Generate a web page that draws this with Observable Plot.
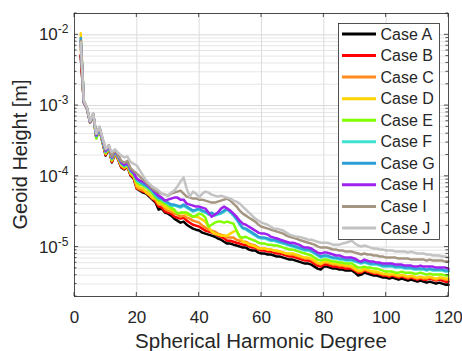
<!DOCTYPE html>
<html><head><meta charset="utf-8">
<script src="https://cdn.jsdelivr.net/npm/d3@7"></script>
<script src="https://cdn.jsdelivr.net/npm/@observablehq/plot@0.6"></script>
<style>html,body{margin:0;padding:0;background:#fff;} #chart{width:462px;height:351px;}</style>
</head><body><div id="chart"></div>
<script>
// Spherical harmonic degree (x)
const degree = [2,3,4,5,6,7,8,9,10,11,12,13,14,15,16,17,18,19,20,21,22,23,24,25,26,27,28,29,30,31,32,33,34,35,36,37,38,39,40,41,42,43,44,45,46,47,48,49,50,51,52,53,54,55,56,57,58,59,60,61,62,63,64,65,66,67,68,69,70,71,72,73,74,75,76,77,78,79,80,81,82,83,84,85,86,87,88,89,90,91,92,93,94,95,96,97,98,99,100,101,102,103,104,105,106,107,108,109,110,111,112,113,114,115,116,117,118,119,120];

// Geoid height per degree, in micrometres
const caseA = [5000,1100,900,575,745,350,470,300,196,255,157,210,173,133,125,137,102,93,
67.0,62.8,58.8,56.9,51.6,46.8,42.5,33.8,34.9,30.7,
29.7,27.8,25.2,23.6,22.1,22.9,20.7,19.4,18.2,17.6,
17.1,16.0,15.5,15.0,14.5,14.0,13.2,12.7,11.9,11.2,
11.2,10.8,10.5,10.2,9.83,9.83,9.21,8.92,8.92,8.35,
8.09,8.09,7.83,7.83,7.58,7.33,7.33,7.10,6.87,6.65,
6.65,6.44,6.23,6.03,5.84,5.84,5.65,5.29,4.96,4.80,
5.29,5.29,5.12,4.96,4.96,4.80,4.80,4.65,4.65,4.65,
4.35,3.95,4.08,4.35,4.21,4.08,3.95,3.95,3.82,3.70,
3.70,3.58,3.70,3.58,3.46,3.58,3.46,3.35,3.46,3.35,
3.24,3.35,3.24,3.14,3.24,3.14,3.04,3.14,3.04,2.94,
2.94];
const caseB = [5200,1100,900,575,745,355,470,305,200,255,160,212,175,135,127,138,104,95,
67.0,64.9,60.8,58.8,53.3,48.4,43.9,37.3,36.1,31.7,
30.7,29.7,26.9,26.0,25.2,26.0,23.6,22.1,20.7,20.1,
19.4,18.2,17.1,16.5,16.0,15.5,14.5,14.0,13.2,12.3,
12.3,11.9,11.5,11.2,10.8,10.8,10.2,9.83,9.83,9.21,
8.92,8.92,8.63,8.63,8.35,8.09,8.09,7.83,7.58,7.33,
7.33,7.10,6.87,6.65,6.44,6.44,6.23,5.84,5.47,5.29,
5.65,5.65,5.47,5.29,5.29,5.12,5.12,4.96,4.96,4.96,
4.65,4.35,4.35,4.65,4.50,4.35,4.21,4.21,4.08,3.95,
3.95,3.82,3.95,3.82,3.70,3.82,3.70,3.58,3.70,3.58,
3.46,3.58,3.46,3.46,3.58,3.46,3.35,3.46,3.35,3.24,
3.24];
const caseC = [7000,1120,910,580,750,360,475,310,205,258,165,215,178,140,130,140,108,98,
69.2,64.9,62.8,60.8,55.1,48.4,46.8,39.8,39.8,34.9,
32.7,31.7,29.7,28.7,26.9,27.8,26.0,25.2,23.6,22.9,
22.1,20.1,18.8,17.6,17.1,16.5,15.5,15.0,14.5,13.6,
13.6,13.6,12.7,12.3,11.9,11.9,11.2,10.8,10.5,9.83,
9.52,9.52,9.21,9.21,8.92,8.63,8.63,8.35,8.09,7.83,
7.83,7.58,7.33,7.10,6.87,6.87,6.65,6.23,5.84,5.65,
6.03,6.03,5.84,5.65,5.65,5.47,5.47,5.29,5.29,5.12,
4.80,4.50,4.50,4.80,4.65,4.50,4.35,4.35,4.21,4.08,
4.08,3.95,4.08,3.95,3.82,3.95,3.82,3.70,3.82,3.70,
3.58,3.70,3.58,3.58,3.70,3.58,3.46,3.58,3.58,3.46,
3.46];
const caseD = [10500,1150,920,585,755,365,480,315,210,260,168,218,180,143,133,142,110,100,
73.9,69.2,67.0,58.8,55.1,50.0,48.4,41.1,41.1,37.3,
34.9,33.8,31.7,30.7,29.7,30.7,28.7,27.8,26.9,26.9,
26.0,24.4,22.9,19.4,16.5,15.5,15.0,14.5,14.5,14.5,
15.5,16.5,17.1,14.0,11.9,11.5,10.8,10.5,10.2,9.52,
9.52,9.52,9.21,9.21,8.92,8.92,8.63,8.35,8.09,8.09,
8.09,7.83,7.58,7.33,7.10,7.10,6.87,6.44,6.03,5.84,
6.23,6.23,6.03,5.84,5.84,5.65,5.65,5.47,5.47,5.29,
4.96,4.65,4.65,4.96,4.80,4.65,4.50,4.50,4.35,4.21,
4.21,4.08,4.21,4.08,3.95,4.08,3.95,3.82,3.95,3.82,
3.70,3.82,3.70,3.70,3.82,3.70,3.58,3.70,3.70,3.58,
3.58];
const caseE = [8000,1120,910,580,750,340,470,310,215,262,172,222,185,150,136,146,115,104,
81.5,76.4,73.9,69.2,62.8,56.9,50.0,45.3,43.9,41.1,
38.5,36.1,33.8,29.7,30.7,30.7,30.7,28.7,26.9,27.8,
29.7,28.7,26.0,19.4,20.7,22.1,22.9,22.9,22.1,22.9,
22.1,21.4,17.1,14.0,13.6,14.0,13.2,12.7,12.3,11.5,
11.2,11.2,10.8,10.8,10.5,10.5,10.2,9.83,9.52,9.21,
9.21,8.92,8.63,8.35,8.09,7.83,7.58,7.10,6.65,6.44,
6.65,6.65,6.44,6.23,6.23,6.03,6.03,5.84,5.84,5.84,
5.47,5.12,5.12,5.29,5.12,5.12,4.96,4.96,4.80,4.65,
4.50,4.50,4.50,4.35,4.35,4.50,4.35,4.35,4.35,4.21,
4.21,4.35,4.21,4.08,4.21,4.08,4.08,4.08,4.08,3.95,
3.95];
const caseF = [8500,1130,915,585,755,370,480,320,222,265,178,225,188,152,140,150,118,108,
87.0,81.5,76.4,71.5,67.0,60.8,53.3,48.4,46.8,43.9,
41.1,38.5,38.5,37.3,36.1,38.5,36.1,33.8,31.7,32.7,
33.8,31.7,30.7,28.7,29.7,27.8,28.7,29.7,31.7,33.8,
30.7,27.8,24.4,20.7,18.2,17.6,16.5,15.5,14.5,13.6,
13.2,13.2,12.7,12.3,12.3,11.9,11.5,11.2,10.8,10.5,
10.2,9.83,9.52,9.21,8.92,8.92,8.63,8.09,7.58,7.10,
7.33,7.33,7.10,6.87,6.87,6.65,6.65,6.44,6.44,6.44,
6.23,6.03,5.84,6.03,5.84,5.65,5.65,5.65,5.47,5.29,
5.29,5.29,5.29,5.12,5.12,5.12,4.96,4.96,4.96,4.80,
4.80,4.80,4.80,4.65,4.80,4.65,4.65,4.65,4.65,4.50,
4.50];
const caseG = [9000,1130,915,585,755,370,480,320,224,266,180,226,190,154,142,152,120,110,
89.9,84.2,78.9,73.9,69.2,62.8,55.1,50.0,48.4,45.3,
42.5,39.8,39.8,38.5,37.3,39.8,37.3,34.9,32.7,33.8,
34.9,32.7,31.7,29.7,30.7,28.7,29.7,30.7,32.7,34.9,
31.7,28.7,25.2,21.4,18.8,18.2,17.1,16.0,15.0,14.0,
13.6,13.6,13.2,12.7,12.7,12.3,11.9,11.5,11.2,10.8,
10.5,10.2,9.83,9.52,9.21,9.21,8.92,8.35,7.83,7.33,
7.58,7.58,7.33,7.10,7.10,6.87,6.87,6.65,6.65,6.65,
6.44,6.23,6.03,6.23,6.03,5.84,5.84,5.84,5.65,5.47,
5.47,5.47,5.47,5.29,5.29,5.29,5.12,5.12,5.12,4.96,
4.96,4.96,4.96,4.80,4.96,4.80,4.80,4.80,4.80,4.65,
4.65];
const caseH = [8000,1120,910,585,760,380,490,330,230,270,185,230,195,158,146,156,124,112,
92.9,87.0,84.2,78.9,71.5,64.9,58.8,53.3,50.0,45.3,
46.8,48.4,50.0,50.0,46.8,46.8,41.1,39.8,38.5,37.3,
37.3,36.1,34.9,30.7,26.9,28.7,30.7,34.9,37.3,34.9,
32.7,29.7,26.9,23.6,21.4,20.7,19.4,18.2,17.1,16.0,
15.5,15.5,15.0,14.0,13.6,13.2,12.7,12.3,11.9,11.5,
11.5,11.2,10.8,10.2,9.83,9.83,9.52,8.92,8.35,8.09,
8.35,8.35,8.09,7.83,7.58,7.58,7.33,7.10,7.10,7.10,
6.87,6.44,6.23,6.65,6.44,6.23,6.23,6.03,6.03,5.84,
5.84,5.84,5.84,5.65,5.65,5.65,5.47,5.47,5.47,5.29,
5.29,5.47,5.29,5.29,5.29,5.29,5.12,5.12,5.12,5.12,
4.96];
const caseI = [8200,1150,930,600,770,395,500,340,240,275,190,235,200,165,155,165,130,118,
109.4,99.2,89.9,81.5,73.9,67.0,62.8,58.8,56.9,55.1,
53.3,56.9,58.8,60.8,62.8,56.9,51.6,50.0,48.4,48.4,
46.8,46.8,45.3,43.9,42.5,42.5,43.9,45.3,46.8,48.4,
45.3,41.1,37.3,32.7,29.7,27.8,26.0,24.4,22.9,20.7,
19.4,18.8,18.2,17.6,17.1,16.5,16.0,15.5,14.5,14.0,
13.6,13.2,12.7,12.3,11.9,11.5,11.2,10.8,10.2,9.83,
9.83,9.83,9.52,9.21,9.21,8.92,8.92,8.63,8.63,8.63,
8.35,8.09,7.83,8.09,7.83,7.83,7.58,7.58,7.33,7.33,
7.10,7.10,7.10,7.10,6.87,6.87,6.87,6.87,6.65,6.65,
6.65,6.65,6.65,6.44,6.65,6.44,6.44,6.44,6.44,6.23,
6.23];
const caseJ = [7800,1150,930,600,770,400,500,345,245,270,220,240,215,196,185,190,160,150,
142,120.6,102.5,87.0,78.9,71.5,67.0,62.8,56.9,55.1,
53.3,58.8,62.8,71.5,84.2,96.0,67.0,51.6,60.8,56.9,
50.0,56.9,60.8,58.8,55.1,53.3,51.6,53.3,51.6,50.0,
48.4,45.3,43.9,41.1,37.3,33.8,30.7,27.8,25.2,23.6,
22.1,21.4,20.7,19.4,18.2,18.2,17.6,17.1,16.0,15.0,
14.5,14.0,14.0,13.6,13.2,12.7,12.7,12.3,11.9,11.5,
11.5,11.5,11.2,10.8,10.8,10.8,11.2,11.5,11.9,12.3,
11.2,10.5,10.2,10.5,10.2,9.83,9.52,9.52,9.21,9.21,
8.92,8.92,8.92,8.63,8.63,8.63,8.63,8.35,8.63,8.35,
8.09,8.09,8.09,7.83,7.83,7.58,7.58,7.58,7.33,7.33,
7.10];

const seriesNames = ["Case A","Case B","Case C","Case D","Case E","Case F","Case G","Case H","Case I","Case J"];
const seriesColors = ["#000000","#ff0000","#ff8a1e","#ffd400","#7fff00","#40e0d0","#2e9fd6","#a020f0","#a59682","#c3c3c3"];
const xTicks = [0,20,40,60,80,100,120];
const yDecades = [1e-5,1e-4,1e-3,1e-2];
const yDomain = [2e-6, 2e-2];

const allSeries = [caseA,caseB,caseC,caseD,caseE,caseF,caseG,caseH,caseI,caseJ];
const rows = allSeries.flatMap((vals, i) =>
  vals.map((v, j) => ({degree: degree[j], value: v * 1e-6, name: seriesNames[i]})));

const yMinor = [];
for (let k = -6; k <= -2; k++) for (let m = 2; m <= 9; m++) {
  const t = m * Math.pow(10, k);
  if (t >= yDomain[0] && t <= yDomain[1]) yMinor.push(t);
}

const ink = "#262626";
const chart = Plot.plot({
  width: 462, height: 351,
  marginLeft: 74, marginRight: 14, marginTop: 13, marginBottom: 55,
  style: {fontFamily: "'Liberation Sans', Arial, Helvetica, sans-serif", fontSize: "17px", color: ink, background: "#fff", overflow: "visible"},
  x: {domain: [0, 120], label: null},
  y: {type: "log", domain: yDomain, label: null},
  color: {domain: seriesNames, range: seriesColors},
  marks: [
    Plot.gridY(yMinor, {stroke: "#e6e6e6", strokeOpacity: 1}),
    Plot.gridY(yDecades, {stroke: "#d9d9d9", strokeOpacity: 1}),
    Plot.gridX(xTicks.slice(1, -1), {stroke: "#dcdcdc", strokeOpacity: 1}),
    Plot.line(rows, {x: "degree", y: "value", z: "name", stroke: "name", strokeWidth: 2.5, strokeLinejoin: "round"}),
    Plot.frame({stroke: ink, strokeWidth: 0.8}),
    Plot.axisX(xTicks, {tickSize: 0, tickPadding: 14, fontSize: 17, fill: ink}),
    Plot.axisY(yDecades, {tickSize: 0, tickPadding: 6, fontSize: 17, fill: ink,
      tickFormat: d => "10^" + Math.round(Math.log10(d))})
  ]
});
document.getElementById("chart").appendChild(chart);

const svg = d3.select(chart);
const xs = chart.scale("x"), ys = chart.scale("y");
const x0 = xs.apply(0), x1 = xs.apply(120), y0 = ys.apply(yDomain[0]), y1 = ys.apply(yDomain[1]);

// superscript exponents on y tick labels
svg.selectAll('g[aria-label="y-axis tick label"] text').each(function() {
  const parts = this.textContent.split("^");
  if (parts.length === 2) {
    this.textContent = parts[0];
    d3.select(this).append("tspan").attr("dy", "-7").attr("font-size", "12px").text(parts[1]);
  }
});

// inward tick marks on all four sides
const tg = svg.append("g").attr("stroke", ink).attr("stroke-width", 0.8);
xTicks.forEach(t => {
  const px = xs.apply(t);
  tg.append("line").attr("x1", px).attr("x2", px).attr("y1", y0).attr("y2", y0 - 4);
  tg.append("line").attr("x1", px).attr("x2", px).attr("y1", y1).attr("y2", y1 + 4);
});
yDecades.forEach(t => {
  const py = ys.apply(t);
  tg.append("line").attr("x1", x0).attr("x2", x0 + 4).attr("y1", py).attr("y2", py);
  tg.append("line").attr("x1", x1).attr("x2", x1 - 4).attr("y1", py).attr("y2", py);
});
yMinor.forEach(t => {
  const py = ys.apply(t);
  tg.append("line").attr("x1", x0).attr("x2", x0 + 2.5).attr("y1", py).attr("y2", py);
  tg.append("line").attr("x1", x1).attr("x2", x1 - 2.5).attr("y1", py).attr("y2", py);
});

// axis titles
const font = "'Liberation Sans', Arial, Helvetica, sans-serif";
svg.append("text").attr("x", (x0 + x1) / 2).attr("y", 348).attr("text-anchor", "middle")
  .attr("font-family", font).attr("font-size", "20.5px").attr("fill", ink).text("Spherical Harmonic Degree");
svg.append("text").attr("transform", `translate(27,${(y0 + y1) / 2}) rotate(-90)`).attr("text-anchor", "middle")
  .attr("font-family", font).attr("font-size", "20px").attr("fill", ink).text("Geoid Height [m]");

// legend
const lg = svg.append("g");
lg.append("rect").attr("x", 338.5).attr("y", 23.5).attr("width", 101).attr("height", 216)
  .attr("fill", "#fff").attr("stroke", ink).attr("stroke-width", 0.8);
seriesNames.forEach((n, i) => {
  const cy = 34 + i * 21.55;
  lg.append("line").attr("x1", 342).attr("x2", 376).attr("y1", cy).attr("y2", cy)
    .attr("stroke", seriesColors[i]).attr("stroke-width", 3);
  lg.append("text").attr("x", 380.5).attr("y", cy).attr("dy", "0.35em").attr("text-anchor", "start")
    .attr("font-family", font).attr("font-size", "16px").attr("fill", ink).text(n);
});
</script>
</body></html>
